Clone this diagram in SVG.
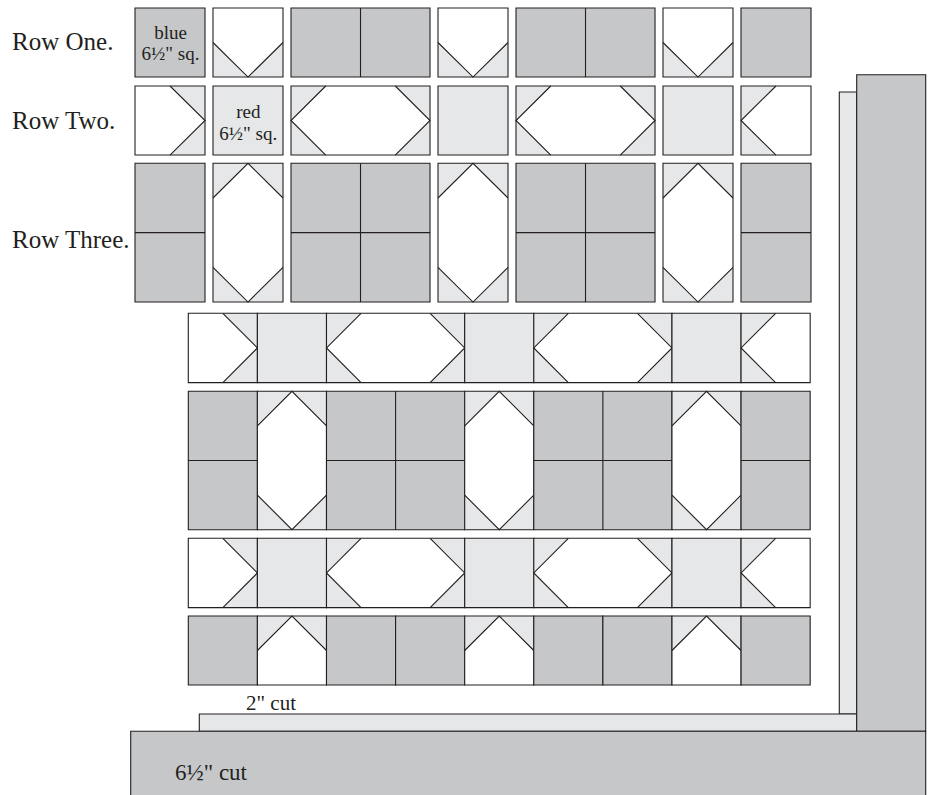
<svg xmlns="http://www.w3.org/2000/svg" xmlns:xlink="http://www.w3.org/1999/xlink" width="933" height="795" viewBox="0 0 933 795">
<style>
.dk{fill:#c6c7c9}
.lt{fill:#e6e7e8}
.wh{fill:#ffffff}
.ln{fill:none;stroke:#231f20;stroke-width:1.1;vector-effect:non-scaling-stroke}
.bx{stroke:#231f20;stroke-width:1.1;vector-effect:non-scaling-stroke}
.lbl{font-family:"Liberation Serif","Times New Roman",serif;fill:#231f20}
.row{font-size:25px}
.sq{font-size:19px;text-anchor:middle}
.cut{font-size:21px}
</style>
<defs>
<g id="D1"><rect class="dk bx" x="0" y="0" width="70" height="70"/></g>
<g id="L1"><rect class="lt bx" x="0" y="0" width="70" height="70"/></g>
<g id="VB"><rect class="wh" width="70" height="70"/><path class="lt" d="M0,35L0,70L35,70ZM35,70L70,70L70,35Z"/><polyline class="ln" points="0,35 35,70 70,35"/><rect class="ln" width="70" height="70"/></g>
<g id="VT"><rect class="wh" width="70" height="70"/><path class="lt" d="M0,0L35,0L0,35ZM35,0L70,0L70,35Z"/><polyline class="ln" points="0,35 35,0 70,35"/><rect class="ln" width="70" height="70"/></g>
<g id="AR"><rect class="wh" width="70" height="70"/><path class="lt" d="M35,0L70,0L70,35ZM70,35L70,70L35,70Z"/><polyline class="ln" points="35,0 70,35 35,70"/><rect class="ln" width="70" height="70"/></g>
<g id="AL"><rect class="wh" width="70" height="70"/><path class="lt" d="M0,0L35,0L0,35ZM0,35L0,70L35,70Z"/><polyline class="ln" points="35,0 0,35 35,70"/><rect class="ln" width="70" height="70"/></g>
<g id="HH"><rect class="wh" width="140" height="70"/><path class="lt" d="M0,0L35,0L0,35ZM0,35L0,70L35,70ZM105,0L140,0L140,35ZM140,35L140,70L105,70Z"/><polyline class="ln" points="35,0 0,35 35,70"/><polyline class="ln" points="105,0 140,35 105,70"/><rect class="ln" width="140" height="70"/></g>
<g id="HV"><rect class="wh" width="70" height="140"/><path class="lt" d="M0,0L35,0L0,35ZM35,0L70,0L70,35ZM0,105L0,140L35,140ZM35,140L70,140L70,105Z"/><polyline class="ln" points="0,35 35,0 70,35"/><polyline class="ln" points="0,105 35,140 70,105"/><rect class="ln" width="70" height="140"/></g>
<g id="D2H"><rect class="dk bx" width="140" height="70"/><line class="ln" x1="70" y1="0" x2="70" y2="70"/></g>
<g id="D2V"><rect class="dk bx" width="70" height="140"/><line class="ln" x1="0" y1="70" x2="70" y2="70"/></g>
<g id="D4"><rect class="dk bx" width="140" height="140"/><line class="ln" x1="70" y1="0" x2="70" y2="140"/><line class="ln" x1="0" y1="70" x2="140" y2="70"/></g>
</defs>

<g id="labels">
<text class="lbl row" x="12" y="50">Row One.</text>
<text class="lbl row" x="12" y="129">Row Two.</text>
<text class="lbl row" x="12" y="248">Row Three.</text>
</g>

<g id="row-one">
<g id="r1-blue"><use href="#D1" transform="translate(135,8) scale(1,0.986)"/>
<text class="lbl sq" x="170.5" y="39">blue</text><text class="lbl sq" x="170.5" y="60">6½" sq.</text></g>
<use id="r1-2" href="#VB" transform="translate(213,8) scale(1,0.986)"/>
<use id="r1-3" href="#D2H" transform="translate(291,8) scale(0.993,0.986)"/>
<use id="r1-4" href="#VB" transform="translate(438,8) scale(1,0.986)"/>
<use id="r1-5" href="#D2H" transform="translate(516,8) scale(0.993,0.986)"/>
<use id="r1-6" href="#VB" transform="translate(663,8) scale(1,0.986)"/>
<use id="r1-7" href="#D1" transform="translate(741,8) scale(1,0.986)"/>
</g>

<g id="row-two">
<use id="r2-1" href="#AR" transform="translate(135,86) scale(1,0.986)"/>
<g id="r2-red"><use href="#L1" transform="translate(213,86) scale(1,0.986)"/>
<text class="lbl sq" x="248.3" y="118">red</text><text class="lbl sq" x="248.3" y="139.5">6½" sq.</text></g>
<use id="r2-3" href="#HH" transform="translate(291,86) scale(0.993,0.986)"/>
<use id="r2-4" href="#L1" transform="translate(438,86) scale(1,0.986)"/>
<use id="r2-5" href="#HH" transform="translate(516,86) scale(0.993,0.986)"/>
<use id="r2-6" href="#L1" transform="translate(663,86) scale(1,0.986)"/>
<use id="r2-7" href="#AL" transform="translate(741,86) scale(1,0.986)"/>
</g>

<g id="row-three">
<use id="r3-1" href="#D2V" transform="translate(135,163.3) scale(1,0.991)"/>
<use id="r3-2" href="#HV" transform="translate(213,163.3) scale(1,0.991)"/>
<use id="r3-3" href="#D4" transform="translate(291,163.3) scale(0.993,0.991)"/>
<use id="r3-4" href="#HV" transform="translate(438,163.3) scale(1,0.991)"/>
<use id="r3-5" href="#D4" transform="translate(516,163.3) scale(0.993,0.991)"/>
<use id="r3-6" href="#HV" transform="translate(663,163.3) scale(1,0.991)"/>
<use id="r3-7" href="#D2V" transform="translate(741,163.3) scale(1,0.991)"/>
</g>

<g id="row-four" transform="translate(188.3,313.3) scale(0.9871,0.991)">
<use href="#AR" x="0"/><use href="#L1" x="70"/><use href="#HH" x="140"/><use href="#L1" x="280"/><use href="#HH" x="350"/><use href="#L1" x="490"/><use href="#AL" x="560"/>
</g>
<g id="row-five" transform="translate(188.3,391.3) scale(0.9871,0.9886)">
<use href="#D2V" x="0"/><use href="#HV" x="70"/><use href="#D4" x="140"/><use href="#HV" x="280"/><use href="#D4" x="350"/><use href="#HV" x="490"/><use href="#D2V" x="560"/>
</g>
<g id="row-six" transform="translate(188.3,538.3) scale(0.9871,0.991)">
<use href="#AR" x="0"/><use href="#L1" x="70"/><use href="#HH" x="140"/><use href="#L1" x="280"/><use href="#HH" x="350"/><use href="#L1" x="490"/><use href="#AL" x="560"/>
</g>
<g id="row-seven" transform="translate(188.3,616) scale(0.9871,0.986)">
<use href="#D1" x="0"/><use href="#VT" x="70"/><use href="#D1" x="140"/><use href="#D1" x="210"/><use href="#VT" x="280"/><use href="#D1" x="350"/><use href="#D1" x="420"/><use href="#VT" x="490"/><use href="#D1" x="560"/>
</g>

<g id="borders">
<rect id="border-2in-side" class="lt bx" x="839.3" y="92" width="17.4" height="622"/>
<rect id="border-2in-bottom" class="lt bx" x="199.3" y="714" width="657.4" height="17.3"/>
<rect id="border-6in-side" class="dk bx" x="856.7" y="74.7" width="69" height="656.6"/>
<rect id="border-6in-bottom" class="dk bx" x="130.7" y="731.3" width="795" height="80"/>
<text class="lbl cut" x="246" y="710">2" cut</text>
<text class="lbl cut" x="175" y="780" style="font-size:23px">6½" cut</text>
</g>
<g id="connectors"/>
</svg>
